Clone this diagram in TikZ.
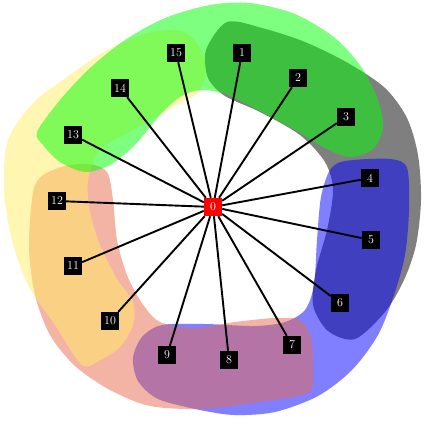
\documentclass[tikz,border=0pt]{standalone}
\usepackage{tikz}

\definecolor{salmonred}{RGB}{234,106,76}
\definecolor{paleyellow}{RGB}{255,238,100}

\begin{document}
\begin{tikzpicture}[
    x=1pt, y=-1pt, % pixel coordinates, y downwards
    vertex/.style={rectangle, fill=black, text=white, minimum width=18pt, minimum height=18pt, inner sep=1pt, font=\fontsize{12}{13}\selectfont},
    centre/.style={vertex, fill=red},
    spoke/.style={line width=1.9pt},
    blob/.style={fill opacity=0.5, draw=none},
    grayblob/.style={blob, fill=black},
    blueblob/.style={blob, fill=blue},
    pinkblob/.style={blob, fill=salmonred},
    yellowblob/.style={blob, fill=paleyellow},
    greenblob/.style={blob, fill=green}
]
\useasboundingbox (0,0) rectangle (425,424);

% Hyperedges
\fill[grayblob] plot[smooth cycle] coordinates {(227,22) (262,28) (305,42) (348,63) (385,88) (407,118) (418,155) (421,200) (416,245) (404,280) (385,312) (355,339) (328,331) (313,305) (316,270) (327,230) (333,190) (325,162) (300,135) (260,112) (225,96) (208,78) (206,50)};
\fill[blueblob] plot[smooth cycle] coordinates {(330,170) (345,161) (390,159) (407,168) (409,210) (405,255) (394,295) (378,335) (352,370) (318,396) (275,412) (235,415) (200,410) (158,399) (138,381) (133,358) (142,337) (162,325) (205,324) (255,326) (285,322) (305,310) (314,285) (317,240) (321,197)};
\fill[pinkblob] plot[smooth cycle] coordinates {(35,185) (58,168) (88,164) (107,172) (113,200) (117,240) (127,275) (142,303) (160,322) (195,328) (235,322) (275,318) (300,320) (311,338) (313,370) (308,393) (253,403) (203,409) (150,406) (110,390) (75,366) (50,335) (35,295) (29,245)};
\fill[yellowblob] plot[smooth cycle] coordinates {(8,140) (33,103) (67,77) (107,50) (148,33) (182,31) (200,48) (206,72) (198,93) (180,103) (158,116) (128,133) (100,150) (88,180) (90,212) (100,245) (117,279) (133,302) (133,325) (120,347) (100,360) (82,365) (55,325) (28,285) (12,240) (4,190)};
\fill[greenblob] plot[smooth cycle] coordinates {(37,132) (60,100) (90,68) (125,40) (165,18) (210,5) (250,3) (295,14) (335,38) (362,68) (378,100) (383,128) (373,149) (350,157) (325,148) (295,130) (258,110) (225,94) (200,90) (180,97) (160,115) (135,145) (110,165) (85,172) (60,162) (43,145)};

% Vertices
\node[centre] (n0) at (213,207) {0};
\node[vertex] (n1) at (242,53) {1};
\node[vertex] (n2) at (298,78) {2};
\node[vertex] (n3) at (346,117) {3};
\node[vertex] (n4) at (370,178) {4};
\node[vertex] (n5) at (371,240) {5};
\node[vertex] (n6) at (340,303) {6};
\node[vertex] (n7) at (292,345) {7};
\node[vertex] (n8) at (229,360) {8};
\node[vertex] (n9) at (167,355) {9};
\node[vertex] (n10) at (110,321) {10};
\node[vertex] (n11) at (73,266) {11};
\node[vertex] (n12) at (57,201) {12};
\node[vertex] (n13) at (73,135) {13};
\node[vertex] (n14) at (120,88) {14};
\node[vertex] (n15) at (176,53) {15};

% Spokes
\draw[spoke] (n0) -- (n1);
\draw[spoke] (n0) -- (n2);
\draw[spoke] (n0) -- (n3);
\draw[spoke] (n0) -- (n4);
\draw[spoke] (n0) -- (n5);
\draw[spoke] (n0) -- (n6);
\draw[spoke] (n0) -- (n7);
\draw[spoke] (n0) -- (n8);
\draw[spoke] (n0) -- (n9);
\draw[spoke] (n0) -- (n10);
\draw[spoke] (n0) -- (n11);
\draw[spoke] (n0) -- (n12);
\draw[spoke] (n0) -- (n13);
\draw[spoke] (n0) -- (n14);
\draw[spoke] (n0) -- (n15);

\end{tikzpicture}
\end{document}
